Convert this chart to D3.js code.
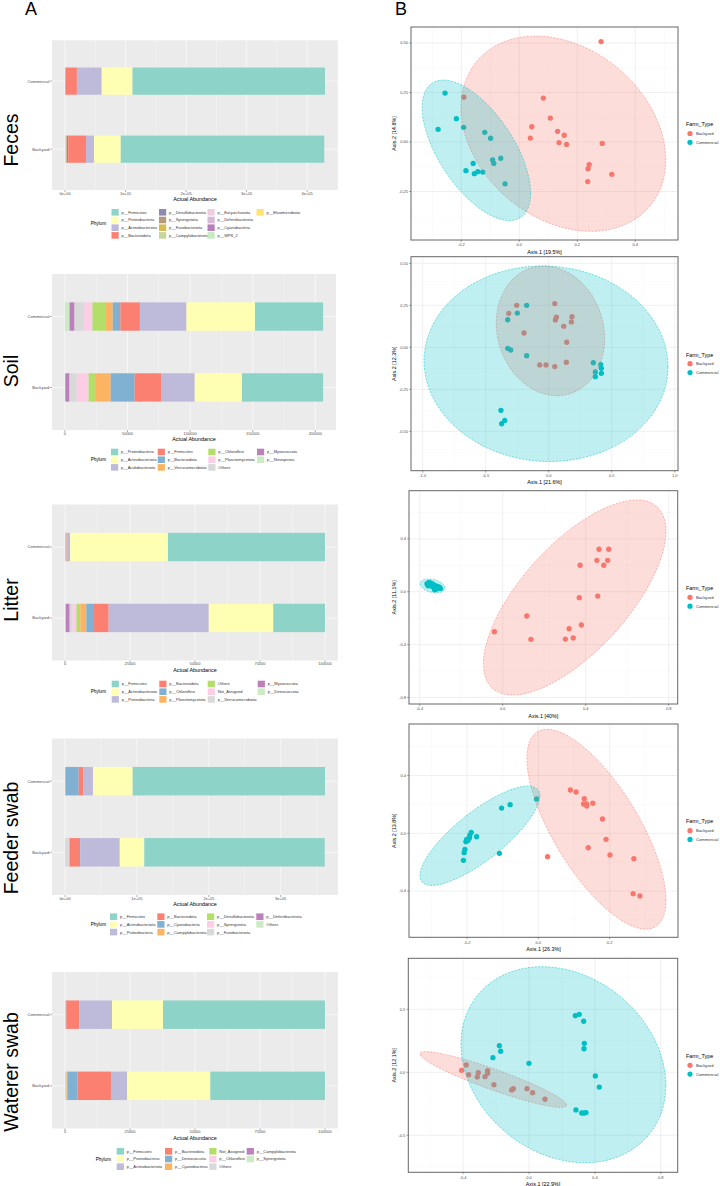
<!DOCTYPE html>
<html>
<head>
<meta charset="utf-8">
<script src="https://cdn.jsdelivr.net/npm/d3@7"></script>
<style>
  body { margin: 0; background: #fff; }
  svg { display: block; font-family: "Liberation Sans", Arial, sans-serif; }
</style>
</head>
<body>
<svg id="fig" width="720" height="1186"></svg>
<script>
// ---------- data ----------
var groups = ["Backyard", "Commercial"];
var rowLabels = ["Feces", "Soil", "Litter", "Feeder swab", "Waterer swab"];
var set3 = ["#8DD3C7","#FFFFB3","#BEBADA","#FB8072","#80B1D3","#FDB462","#B3DE69","#FCCDE5","#D9D9D9","#BC80BD","#CCEBC5"];

// A: stacked abundance (legend order, first = right end of bar)
var fecesPhyla = ["p__Firmicutes","p__Proteobacteria","p__Actinobacteriota","p__Bacteroidota","p__Desulfobacterota","p__Synergistota","p__Fusobacteriota","p__Campylobacterota","p__Euryarchaeota","p__Deferribacterota","p__Cyanobacteria","p__WPS_2","p__Elusimicrobiota"];
var fecesColors = ["#8DD3C7","#FFFFB3","#BEBADA","#FB8072","#8F8BB0","#B39A7E","#D5BD55","#C9D59F","#EFCDE1","#D5B9D5","#B77FB8","#C6EAC1","#FFE36B"];
var fecesCommercial = [318000,50800,41000,18000,500,300,200,200,100,100,100,50,100];
var fecesBackyard = [336100,44200,13100,29500,2000,800,500,400,200,200,100,100,1000];
var fecesTicks = [0,100000,200000,300000,400000];
var fecesTickLabels = ["0e+00","1e+05","2e+05","3e+05","4e+05"];

var soilPhyla = ["p__Proteobacteria","p__Actinobacteriota","p__Acidobacteriota","p__Firmicutes","p__Bacteroidota","p__Verrucomicrobiota","p__Chloroflexi","p__Planctomycetota","Others","p__Myxococcota","p__Nitrospirota"];
var soilCommercial = [54400,54700,37200,15600,6100,6100,10100,6600,7700,4000,3700];
var soilBackyard = [64800,37700,26500,21500,19100,12500,5200,9400,5800,3400,300];
var soilTicks = [0,50000,100000,150000,200000];
var soilTickLabels = ["0","50000","100000","150000","200000"];

var litterPhyla = ["p__Firmicutes","p__Actinobacteriota","p__Proteobacteria","p__Bacteroidota","p__Chloroflexi","p__Planctomycetota","Others","Not_Assigned","p__Verrucomicrobiota","p__Myxococcota","p__Deinococcota"];
var litterCommercial = [60400,37600,1300,100,50,400,20,20,20,60,30];
var litterBackyard = [19900,24800,38500,6000,2600,2300,1500,1500,1100,1500,300];
var litterTicks = [0,25000,50000,75000,100000];
var litterTickLabels = ["0","25000","50000","75000","100000"];

var feederPhyla = ["p__Firmicutes","p__Actinobacteriota","p__Proteobacteria","p__Bacteroidota","p__Cyanobacteria","p__Campylobacterota","p__Desulfobacterota","p__Synergistota","p__Fusobacteriota","p__Deferribacterota","Others"];
var feederCommercial = [267500,55200,13400,6400,18500,100,100,100,100,100,100];
var feederBackyard = [250900,34100,55200,14600,200,300,200,500,4700,200,300];
var feederTicks = [0,100000,200000,300000];
var feederTickLabels = ["0e+00","1e+05","2e+05","3e+05"];

var watererPhyla = ["p__Firmicutes","p__Proteobacteria","p__Actinobacteriota","p__Bacteroidota","p__Deinococcota","p__Cyanobacteria","Not_Assigned","p__Chloroflexi","Others","p__Campylobacterota","p__Synergistota"];
var watererCommercial = [62300,19600,12600,5000,100,100,50,50,100,50,50];
var watererBackyard = [44100,32000,6200,12900,3900,300,100,100,200,100,100];
var watererTicks = [0,25000,50000,75000,100000];
var watererTickLabels = ["0","25000","50000","75000","100000"];

// B: PCoA coordinates [Axis.1, Axis.2]
var fecesBackyardPts = [[0.282,0.507],[0.083,0.222],[0.107,0.121],[0.043,0.077],[0.038,0.020],[0.132,0.054],[0.155,0.034],[0.137,-0.003],[0.163,-0.012],[0.286,-0.007],[0.241,-0.114],[0.237,-0.135],[0.319,-0.163],[0.236,-0.200],[-0.191,0.226]];
var fecesCommercialPts = [[-0.256,0.247],[-0.280,0.064],[-0.217,0.118],[-0.192,0.074],[-0.119,0.049],[-0.099,0.019],[-0.159,-0.108],[-0.184,-0.145],[-0.155,-0.160],[-0.143,-0.150],[-0.126,-0.152],[-0.092,-0.091],[-0.088,-0.108],[-0.064,-0.082],[-0.049,-0.211]];
var soilBackyardPts = [[0.048,0.260],[-0.254,0.250],[-0.317,0.202],[0.061,0.179],[0.053,0.163],[0.185,0.182],[0.180,0.151],[0.119,0.125],[-0.196,0.085],[0.143,0.030],[-0.071,-0.105],[-0.021,-0.105],[0.048,-0.115],[0.140,-0.089]];
var soilCommercialPts = [[-0.175,0.250],[-0.249,0.204],[-0.325,0.164],[-0.325,-0.006],[-0.302,-0.016],[-0.175,-0.050],[0.354,-0.092],[0.413,-0.103],[0.418,-0.125],[0.370,-0.147],[0.418,-0.155],[0.370,-0.175],[-0.379,-0.375],[-0.349,-0.435],[-0.373,-0.455]];
var litterBackyardPts = [[0.464,0.321],[0.511,0.321],[0.454,0.237],[0.506,0.237],[0.487,0.200],[0.373,0.200],[0.369,-0.045],[0.458,-0.033],[0.116,-0.184],[-0.040,-0.303],[0.136,-0.360],[0.379,-0.252],[0.320,-0.280],[0.302,-0.358],[0.340,-0.350]];
var litterCommercialPts = [[-0.365,0.060],[-0.355,0.070],[-0.350,0.050],[-0.345,0.065],[-0.340,0.040],[-0.335,0.055],[-0.330,0.030],[-0.325,0.045],[-0.320,0.020],[-0.315,0.040],[-0.310,0.030],[-0.305,0.035],[-0.300,0.025],[-0.360,0.045],[-0.328,0.015]];
var feederBackyardPts = [[0.090,0.300],[0.106,0.286],[0.129,0.240],[0.127,0.203],[0.135,0.203],[0.136,0.189],[0.153,0.208],[0.180,0.099],[0.190,-0.042],[0.140,-0.100],[0.201,-0.150],[0.268,-0.176],[0.026,-0.162],[0.266,-0.418],[0.285,-0.434]];
var feederCommercialPts = [[-0.005,0.238],[-0.079,0.198],[-0.103,0.175],[-0.188,0.007],[-0.192,-0.012],[-0.201,-0.042],[-0.203,-0.058],[-0.197,-0.046],[-0.173,-0.024],[-0.206,-0.111],[-0.208,-0.134],[-0.109,-0.139],[-0.210,-0.187],[-0.198,-0.050],[-0.193,-0.030]];
var watererBackyardPts = [[-0.409,0.016],[-0.381,0.058],[-0.366,-0.019],[-0.314,-0.037],[-0.308,-0.003],[-0.267,-0.035],[-0.251,0.013],[-0.251,-0.008],[-0.213,-0.098],[-0.105,-0.140],[-0.095,-0.130],[-0.012,-0.130],[0.022,-0.162],[0.097,-0.214]];
var watererCommercialPts = [[0.281,0.449],[0.305,0.460],[0.332,0.405],[0.336,0.230],[0.334,0.187],[-0.180,0.211],[-0.172,0.167],[-0.219,0.116],[0.000,0.071],[0.403,-0.029],[0.427,-0.117],[0.285,-0.299],[0.320,-0.323],[0.334,-0.323],[0.346,-0.320]];

// 95% ellipses: [cx, cy, half width, half height, tilt corr]
var fecesEllipses = [[0.152,0.042,0.353,0.493,-0.27],[-0.148,-0.042,0.187,0.355,-0.61]];
var soilEllipses = [[0.014,0.098,0.430,0.386,-0.12],[-0.021,-0.098,0.968,0.582,-0.03]];
var litterEllipses = [[0.347,-0.044,0.440,0.738,0.68],[-0.338,0.044,0.060,0.052,-0.3]];
var feederEllipses = [[0.163,0.028,0.195,0.692,-0.71],[-0.164,-0.017,0.168,0.344,0.8]];
var watererEllipses = [[-0.217,-0.057,0.445,0.221,-0.92],[0.209,0.060,0.622,0.778,-0.21]];

var pctAxis1 = ["19.5%","21.6%","40%","26.3%","22.9%"];
var pctAxis2 = ["14.8%","12.3%","11.1%","13.8%","12.1%"];

var farmColors = ["#F8766D", "#00BFC4"];

var svg = d3.select("#fig");
svg.append("rect").attr("width", 720).attr("height", 1186).attr("fill", "#fff");

svg.append("text").attr("x", 25).attr("y", 15).attr("font-size", 18).text("A");
svg.append("text").attr("x", 395).attr("y", 15).attr("font-size", 18).text("B");

// big rotated row titles
var rowLabelY = [140, 371, 600, 838, 1072];
rowLabels.forEach(function(t, i) {
  svg.append("text")
    .attr("transform", "translate(18," + rowLabelY[i] + ") rotate(-90)")
    .attr("text-anchor", "middle")
    .attr("font-size", 19.5)
    .text(t);
});

// ---------- stacked bar panels ----------
function drawBars(cfg) {
  var g = svg.append("g");
  var rows = groups.map(function(grp) {
    var vals = grp == "Backyard" ? cfg.backyard : cfg.commercial;
    var r = { group: grp };
    cfg.phyla.forEach(function(p, i) { r[p] = vals[i]; });
    return r;
  });
  var series = d3.stack().keys(cfg.phyla.slice().reverse())(rows);
  var maxT = d3.max(rows, function(r) { return d3.sum(cfg.phyla, function(p) { return r[p]; }); });
  var x = d3.scaleLinear().domain([-0.05 * maxT, 1.05 * maxT]).range([cfg.left, cfg.right]);
  var y = d3.scaleLinear().domain([0.4, 2.6]).range([cfg.bottom, cfg.top]);
  var color = d3.scaleOrdinal().domain(cfg.phyla).range(cfg.colors);

  g.append("rect").attr("x", cfg.left).attr("y", cfg.top)
    .attr("width", cfg.right - cfg.left).attr("height", cfg.bottom - cfg.top)
    .attr("fill", "#EBEBEB");

  var step = cfg.ticks[1] - cfg.ticks[0];
  var minor = [];
  for (var i = -1; i < cfg.ticks.length; i++) {
    var v = cfg.ticks[0] + step * (i + 0.5);
    if (v > x.domain()[0] && v < x.domain()[1]) minor.push(v);
  }
  g.selectAll(".mn").data(minor).enter().append("line")
    .attr("x1", x).attr("x2", x).attr("y1", cfg.top).attr("y2", cfg.bottom)
    .attr("stroke", "#fff").attr("stroke-width", 0.3);
  g.selectAll(".mj").data(cfg.ticks).enter().append("line")
    .attr("x1", x).attr("x2", x).attr("y1", cfg.top).attr("y2", cfg.bottom)
    .attr("stroke", "#fff").attr("stroke-width", 0.6);
  g.selectAll(".hz").data([1, 2]).enter().append("line")
    .attr("x1", cfg.left).attr("x2", cfg.right).attr("y1", y).attr("y2", y)
    .attr("stroke", "#fff").attr("stroke-width", 0.6);

  // bars
  g.selectAll(".ser").data(series).enter().append("g")
    .attr("fill", function(d) { return color(d.key); })
    .selectAll("rect").data(function(d) { return d; }).enter().append("rect")
    .attr("x", function(d) { return x(d[0]); })
    .attr("width", function(d) { return Math.max(0, x(d[1]) - x(d[0])); })
    .attr("y", function(d, i) { return y(i + 1.2); })
    .attr("height", function(d, i) { return y(i + 0.8) - y(i + 1.2); });

  // x axis
  g.selectAll(".xt").data(cfg.ticks).enter().append("line")
    .attr("x1", x).attr("x2", x).attr("y1", cfg.bottom).attr("y2", cfg.bottom + 2)
    .attr("stroke", "#333").attr("stroke-width", 0.4);
  g.selectAll(".xl").data(cfg.ticks).enter().append("text")
    .attr("x", x).attr("y", cfg.bottom + 4.8)
    .attr("text-anchor", "middle").attr("font-size", 4).attr("fill", "#4D4D4D")
    .text(function(d, i) { return cfg.tickLabels[i]; });
  g.append("text").attr("x", (cfg.left + cfg.right) / 2).attr("y", cfg.bottom + 11.3)
    .attr("text-anchor", "middle").attr("font-size", 5.4).text("Actual Abundance");

  // y axis
  groups.forEach(function(grp, i) {
    g.append("line").attr("x1", cfg.left - 2).attr("x2", cfg.left)
      .attr("y1", y(i + 1)).attr("y2", y(i + 1)).attr("stroke", "#333").attr("stroke-width", 0.4);
    g.append("text").attr("x", cfg.left - 2.6).attr("y", y(i + 1) + 1.4)
      .attr("text-anchor", "end").attr("font-size", 4.1).attr("fill", "#4D4D4D").text(grp);
  });

  // legend
  var nRows = cfg.legRows, rowStep = 7.7;
  g.append("text").attr("x", cfg.legTitleX).attr("y", cfg.legY + rowStep * (nRows - 1) / 2 + 1.6)
    .attr("font-size", 4.6).text("Phylum");
  cfg.phyla.forEach(function(p, i) {
    var col = Math.floor(i / nRows), row = i % nRows;
    var kx = cfg.legX[col], ky = cfg.legY + row * rowStep;
    g.append("rect").attr("x", kx).attr("y", ky - 3.3).attr("width", 7.2).attr("height", 6.6)
      .attr("fill", color(p));
    g.append("text").attr("x", kx + 10).attr("y", ky + 1.4).attr("font-size", 4)
      .attr("fill", "#333").text(p);
  });
}

drawBars({ phyla: fecesPhyla, colors: fecesColors, commercial: fecesCommercial, backyard: fecesBackyard,
  ticks: fecesTicks, tickLabels: fecesTickLabels, left: 52, right: 338, top: 40.3, bottom: 190,
  legX: [111.5, 159, 207.5, 256.5], legY: 212.3, legRows: 4, legTitleX: 90.7 });
drawBars({ phyla: soilPhyla, colors: set3, commercial: soilCommercial, backyard: soilBackyard,
  ticks: soilTicks, tickLabels: soilTickLabels, left: 52, right: 336, top: 274, bottom: 430,
  legX: [111, 157.7, 208.3, 257], legY: 452, legRows: 3, legTitleX: 90.7 });
drawBars({ phyla: litterPhyla, colors: set3, commercial: litterCommercial, backyard: litterBackyard,
  ticks: litterTicks, tickLabels: litterTickLabels, left: 52, right: 338, top: 504.5, bottom: 660.5,
  legX: [111.7, 159.3, 207.7, 257.7], legY: 684, legRows: 3, legTitleX: 90.7 });
drawBars({ phyla: feederPhyla, colors: set3, commercial: feederCommercial, backyard: feederBackyard,
  ticks: feederTicks, tickLabels: feederTickLabels, left: 52, right: 338, top: 738.5, bottom: 895,
  legX: [110, 157.3, 207, 256.3], legY: 916.7, legRows: 3, legTitleX: 90.7 });
drawBars({ phyla: watererPhyla, colors: set3, commercial: watererCommercial, backyard: watererBackyard,
  ticks: watererTicks, tickLabels: watererTickLabels, left: 52, right: 338, top: 972, bottom: 1128.5,
  legX: [116.7, 165, 209.3, 246.7], legY: 1151.3, legRows: 3, legTitleX: 95.7 });

// ---------- PCoA panels ----------
function ellipsePts(e) {
  var s = Math.sqrt(1 - e[4] * e[4]);
  return d3.range(120).map(function(k) {
    var t = 2 * Math.PI * k / 120;
    return [e[0] + e[2] * Math.cos(t), e[1] + e[3] * (e[4] * Math.cos(t) + s * Math.sin(t))];
  });
}

var clipN = 0;
function drawPcoa(cfg) {
  var g = svg.append("g");
  var x = d3.scaleLinear().domain(cfg.xDomain).range([cfg.left, cfg.right]);
  var y = d3.scaleLinear().domain(cfg.yDomain).range([cfg.bottom, cfg.top]);
  var id = "clip" + (clipN++);
  g.append("clipPath").attr("id", id).append("rect")
    .attr("x", cfg.left).attr("y", cfg.top).attr("width", cfg.right - cfg.left).attr("height", cfg.bottom - cfg.top);
  var inner = g.append("g").attr("clip-path", "url(#" + id + ")");

  function minors(ticks, dom) {
    var st = ticks[1] - ticks[0], out = [];
    for (var i = -1; i < ticks.length; i++) {
      var v = ticks[0] + st * (i + 0.5);
      if (v > dom[0] && v < dom[1]) out.push(v);
    }
    return out;
  }
  inner.selectAll(".gx").data(minors(cfg.xTicks, cfg.xDomain)).enter().append("line")
    .attr("x1", x).attr("x2", x).attr("y1", cfg.top).attr("y2", cfg.bottom)
    .attr("stroke", "#F2F2F2").attr("stroke-width", 0.35);
  inner.selectAll(".gy").data(minors(cfg.yTicks, cfg.yDomain)).enter().append("line")
    .attr("y1", y).attr("y2", y).attr("x1", cfg.left).attr("x2", cfg.right)
    .attr("stroke", "#F2F2F2").attr("stroke-width", 0.35);
  inner.selectAll(".Gx").data(cfg.xTicks).enter().append("line")
    .attr("x1", x).attr("x2", x).attr("y1", cfg.top).attr("y2", cfg.bottom)
    .attr("stroke", "#E6E6E6").attr("stroke-width", 0.6);
  inner.selectAll(".Gy").data(cfg.yTicks).enter().append("line")
    .attr("y1", y).attr("y2", y).attr("x1", cfg.left).attr("x2", cfg.right)
    .attr("stroke", "#E6E6E6").attr("stroke-width", 0.6);

  // points
  [cfg.backyard, cfg.commercial].forEach(function(pts, k) {
    inner.selectAll(".p" + k).data(pts).enter().append("circle")
      .attr("cx", function(d) { return x(d[0]); })
      .attr("cy", function(d) { return y(d[1]); })
      .attr("r", 2.65).attr("fill", farmColors[k]);
  });

  // ellipses on top of points
  var line = d3.line().x(function(d) { return x(d[0]); }).y(function(d) { return y(d[1]); })
    .curve(d3.curveLinearClosed);
  cfg.ellipses.forEach(function(e, k) {
    inner.append("path").attr("d", line(ellipsePts(e)))
      .attr("fill", farmColors[k]).attr("fill-opacity", 0.25)
      .attr("stroke", farmColors[k]).attr("stroke-width", 0.5).attr("stroke-dasharray", "2,1.4");
  });

  g.append("rect").attr("x", cfg.left).attr("y", cfg.top)
    .attr("width", cfg.right - cfg.left).attr("height", cfg.bottom - cfg.top)
    .attr("fill", "none").attr("stroke", "#666").attr("stroke-width", 1);

  // axes
  g.selectAll(".xt").data(cfg.xTicks).enter().append("line")
    .attr("x1", x).attr("x2", x).attr("y1", cfg.bottom).attr("y2", cfg.bottom + 2)
    .attr("stroke", "#333").attr("stroke-width", 0.4);
  g.selectAll(".xl").data(cfg.xTicks).enter().append("text")
    .attr("x", x).attr("y", cfg.bottom + 6.2).attr("text-anchor", "middle")
    .attr("font-size", 4).attr("fill", "#4D4D4D")
    .text(function(d, i) { return cfg.xLabels[i]; });
  g.selectAll(".yt").data(cfg.yTicks).enter().append("line")
    .attr("y1", y).attr("y2", y).attr("x1", cfg.left - 2).attr("x2", cfg.left)
    .attr("stroke", "#333").attr("stroke-width", 0.4);
  g.selectAll(".yl").data(cfg.yTicks).enter().append("text")
    .attr("x", cfg.left - 3).attr("y", function(d) { return y(d) + 1.4; })
    .attr("text-anchor", "end").attr("font-size", 4).attr("fill", "#4D4D4D")
    .text(function(d, i) { return cfg.yLabels[i]; });

  g.append("text").attr("x", (cfg.left + cfg.right) / 2).attr("y", cfg.bottom + 13.6)
    .attr("text-anchor", "middle").attr("font-size", 5.4)
    .text("Axis.1  [" + cfg.pct1 + "]");
  g.append("text")
    .attr("transform", "translate(396," + ((cfg.top + cfg.bottom) / 2) + ") rotate(-90)")
    .attr("text-anchor", "middle").attr("font-size", 5.4)
    .text("Axis.2  [" + cfg.pct2 + "]");

  // legend
  var cy = (cfg.top + cfg.bottom) / 2;
  g.append("text").attr("x", 686).attr("y", cy - 7.2).attr("font-size", 5.4).text("Farm_Type");
  groups.forEach(function(grp, k) {
    g.append("circle").attr("cx", 690).attr("cy", cy + k * 8.8).attr("r", 2.6).attr("fill", farmColors[k]);
    g.append("text").attr("x", 696).attr("y", cy + k * 8.8 + 1.5).attr("font-size", 4.2)
      .attr("fill", "#333").text(grp);
  });
}

drawPcoa({ left: 411, right: 678, top: 27, bottom: 240,
  xDomain: [-0.3734, 0.5472], yDomain: [-0.4949, 0.5808],
  xTicks: [-0.2, 0, 0.2, 0.4], xLabels: ["-0.2","0.0","0.2","0.4"],
  yTicks: [-0.25, 0, 0.25, 0.5], yLabels: ["-0.25","0.00","0.25","0.50"],
  backyard: fecesBackyardPts, commercial: fecesCommercialPts, ellipses: fecesEllipses,
  pct1: pctAxis1[0], pct2: pctAxis2[0] });
drawPcoa({ left: 411, right: 678, top: 256.7, bottom: 470.7,
  xDomain: [-1.0929, 1.0262], yDomain: [-0.7345, 0.5393],
  xTicks: [-1, -0.5, 0, 0.5, 1], xLabels: ["-1.0","-0.5","0.0","0.5","1.0"],
  yTicks: [-0.5, -0.25, 0, 0.25, 0.5], yLabels: ["-0.50","-0.25","0.00","0.25","0.50"],
  backyard: soilBackyardPts, commercial: soilCommercialPts, ellipses: soilEllipses,
  pct1: pctAxis1[1], pct2: pctAxis2[1] });
drawPcoa({ left: 409, right: 677.7, top: 490.7, bottom: 704,
  xDomain: [-0.4516, 0.8434], yDomain: [-0.8495, 0.764],
  xTicks: [-0.4, 0, 0.4, 0.8], xLabels: ["-0.4","0.0","0.4","0.8"],
  yTicks: [-0.8, -0.4, 0, 0.4], yLabels: ["-0.8","-0.4","0.0","0.4"],
  backyard: litterBackyardPts, commercial: litterCommercialPts, ellipses: litterEllipses,
  pct1: pctAxis1[2], pct2: pctAxis2[2] });
drawPcoa({ left: 409, right: 678, top: 724, bottom: 937.3,
  xDomain: [-0.3627, 0.3918], yDomain: [-0.7202, 0.7569],
  xTicks: [-0.2, 0, 0.2], xLabels: ["-0.2","0.0","0.2"],
  yTicks: [-0.4, 0, 0.4], yLabels: ["-0.4","0.0","0.4"],
  backyard: feederBackyardPts, commercial: feederCommercialPts, ellipses: feederEllipses,
  pct1: pctAxis1[3], pct2: pctAxis2[3] });
drawPcoa({ left: 408.3, right: 677.7, top: 958.3, bottom: 1172.3,
  xDomain: [-0.7328, 0.9029], yDomain: [-0.7937, 0.9048],
  xTicks: [-0.4, 0, 0.4, 0.8], xLabels: ["-0.4","0.0","0.4","0.8"],
  yTicks: [-0.5, 0, 0.5], yLabels: ["-0.5","0.0","0.5"],
  backyard: watererBackyardPts, commercial: watererCommercialPts, ellipses: watererEllipses,
  pct1: pctAxis1[4], pct2: pctAxis2[4] });
</script>
</body>
</html>
